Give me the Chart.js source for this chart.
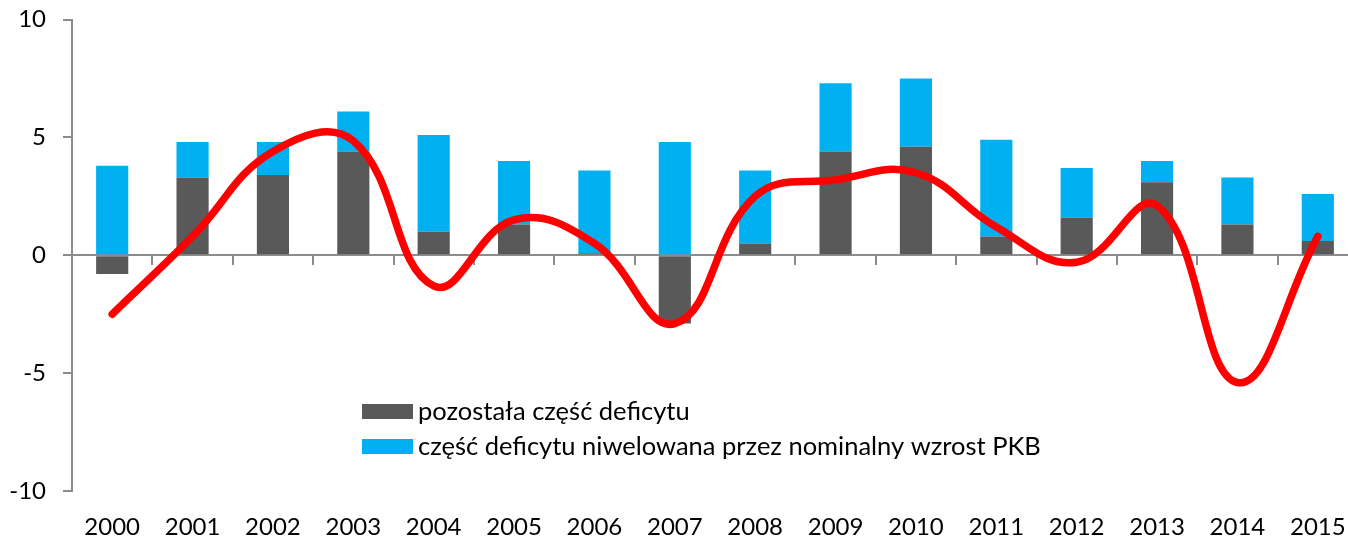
<!DOCTYPE html>
<html>
<head>
<meta charset="utf-8">
<script src="https://cdn.jsdelivr.net/npm/chart.js@4/dist/chart.umd.min.js"></script>
<style>
  html, body { margin: 0; padding: 0; background: #fff; overflow: hidden; }
  #wrap { position: relative; width: 1370px; height: 538px; }
</style>
</head>
<body>
<div id="wrap"><canvas id="c" width="1370" height="538"></canvas></div>
<script>
const categories = ['2000','2001','2002','2003','2004','2005','2006','2007','2008','2009','2010','2011','2012','2013','2014','2015'];
const remainingDeficit = [-0.8, 3.3, 3.4, 4.4, 1.0, 1.3, 0.08, -2.9, 0.5, 4.4, 4.6, 0.8, 1.6, 3.1, 1.3, 0.6];
const offsetByGrowth = [3.8, 1.5, 1.4, 1.7, 4.1, 2.7, 3.52, 4.8, 3.1, 2.9, 2.9, 4.1, 2.1, 0.9, 2.0, 2.0];
const redLine = [-2.5, 0.8, 4.4, 4.85, -1.3, 1.5, 0.5, -2.9, 2.5, 3.2, 3.5, 1.2, -0.3, 2.1, -5.4, 0.8];
const yTicks = [-10, -5, 0, 5, 10];
const seriesNames = ['pozostała część deficytu', 'część deficytu niwelowana przez nominalny wzrost PKB'];

const FONT = 'Lato, "Open Sans", sans-serif';
const axisGray = '#8c8c8c';

const legendPlugin = {
  id: 'inlineLegend',
  afterDraw(chart) {
    const ctx = chart.ctx;
    const items = [0, 1].map(i => chart.data.datasets[i]);
    ctx.save();
    ctx.font = '25.5px ' + FONT;
    ctx.textBaseline = 'middle';
    ctx.textAlign = 'left';
    items.forEach((ds, i) => {
      const y = 404 + i * 35;
      ctx.fillStyle = ds.backgroundColor;
      ctx.fillRect(362, y, 51, 15);
      ctx.fillStyle = '#000';
      ctx.fillText(ds.label, 418, y + 8);
    });
    ctx.restore();
  }
};

new Chart(document.getElementById('c'), {
  data: {
    labels: categories,
    datasets: [
      { type: 'bar', label: seriesNames[0], data: remainingDeficit, backgroundColor: '#595959', order: 1,
        barPercentage: 0.4, categoryPercentage: 1.0 },
      { type: 'bar', label: seriesNames[1], data: offsetByGrowth, backgroundColor: '#00b0f0', order: 1,
        barPercentage: 0.4, categoryPercentage: 1.0 },
      { type: 'line', label: 'deficyt', data: redLine, borderColor: '#ff0000', borderWidth: 7.5,
        tension: 0.42, pointRadius: 0, borderCapStyle: 'round', borderJoinStyle: 'round',
        fill: false, order: 0, stack: 'line' }
    ]
  },
  options: {
    responsive: false,
    animation: false,
    events: [],
    layout: { padding: { top: 19.5, right: 12, bottom: 0, left: 0 } },
    plugins: { legend: { display: false }, tooltip: { enabled: false } },
    scales: {
      x: {
        stacked: true,
        offset: true,
        grid: { display: false },
        border: { display: false },
        ticks: { color: '#000', font: { family: FONT, size: 24 }, padding: 14, maxRotation: 0, autoSkip: false },
        afterFit(scale) { scale.height = 47; scale.paddingLeft = 0; scale.paddingRight = 0; }
      },
      x2: {
        type: 'category',
        position: { y: 0 },
        offset: true,
        grid: { offset: true, drawOnChartArea: false, tickLength: 9, color: axisGray, lineWidth: 2 },
        border: { display: true, color: axisGray, width: 2 },
        ticks: { display: false },
        afterFit(scale) { scale.height = 0; scale.paddingLeft = 0; scale.paddingRight = 0; }
      },
      y: {
        stacked: true,
        min: -10, max: 10,
        afterBuildTicks(scale) { scale.ticks = yTicks.map(v => ({ value: v })); },
        grid: { drawOnChartArea: false, tickLength: 9, color: axisGray, lineWidth: 2 },
        border: { display: true, color: axisGray, width: 2 },
        ticks: { color: '#000', font: { family: FONT, size: 24 }, padding: 17 },
        afterFit(scale) { scale.width = 72; scale.paddingTop = 0; scale.paddingBottom = 0; }
      }
    }
  },
  plugins: [legendPlugin]
});
</script>
</body>
</html>
